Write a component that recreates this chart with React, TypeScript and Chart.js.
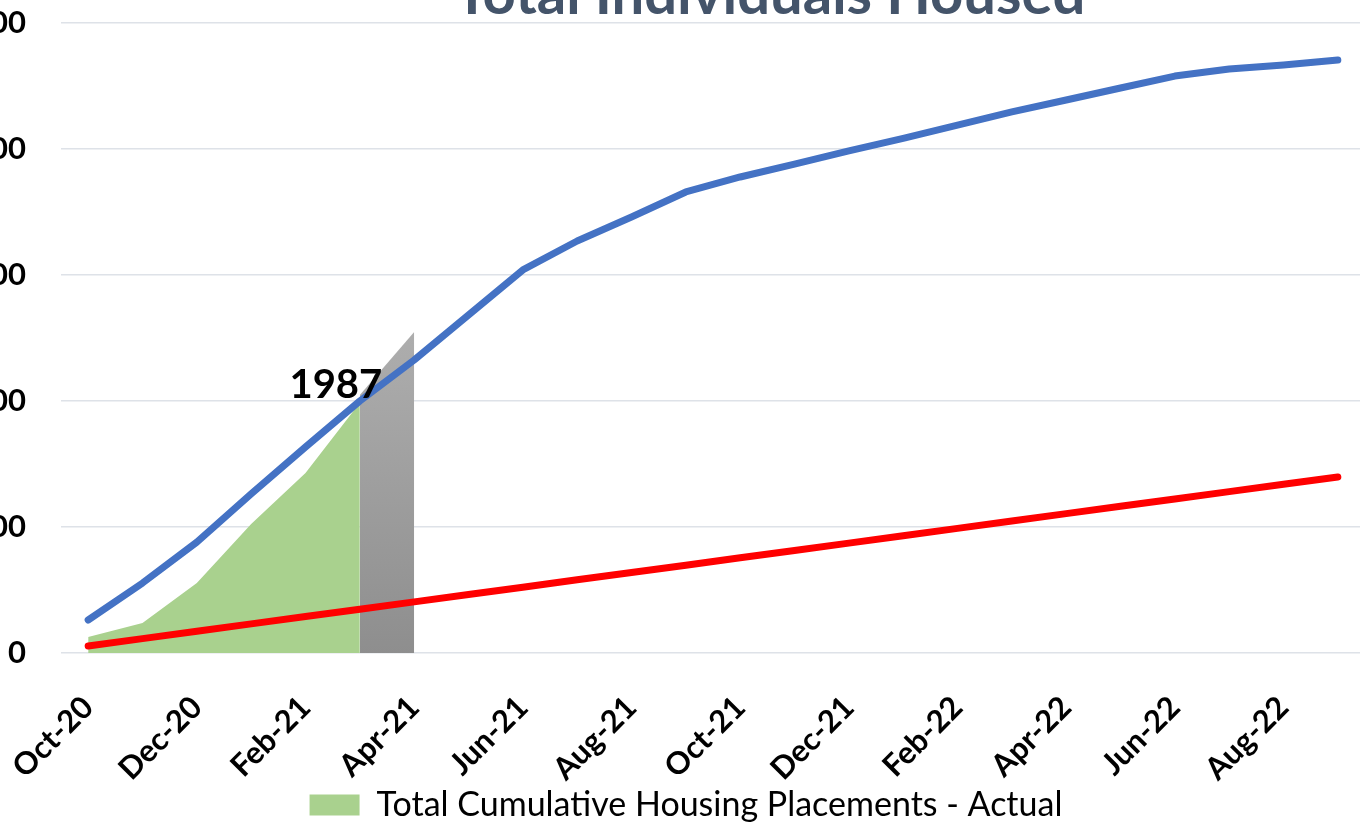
import React, { useEffect, useRef } from "react";
import { Chart, registerables } from "chart.js";

Chart.register(...registerables);

const months = [
  "Oct-20", "Nov-20", "Dec-20", "Jan-21", "Feb-21", "Mar-21", "Apr-21", "May-21",
  "Jun-21", "Jul-21", "Aug-21", "Sep-21", "Oct-21", "Nov-21", "Dec-21", "Jan-22",
  "Feb-22", "Mar-22", "Apr-22", "May-22", "Jun-22", "Jul-22", "Aug-22", "Sep-22",
];

const actualPlacements = [127, 238, 555, 1024, 1428, 1987, null, null, null, null, null, null,
  null, null, null, null, null, null, null, null, null, null, null, null];

const projectedBridge = [null, null, null, null, null, 2048, 2548, null, null, null, null, null,
  null, null, null, null, null, null, null, null, null, null, null, null];

const projectedTotal = [262, 555, 880, 1262, 1635, 2000, 2325, 2683, 3040, 3270, 3460, 3659,
  3778, 3880, 3985, 4085, 4190, 4294, 4389, 4484, 4579, 4635, 4667, 4706];

const goalLine = [56, 114, 172, 231, 289, 347, 406, 464, 522, 581, 639, 697,
  756, 814, 872, 931, 989, 1047, 1106, 1164, 1222, 1281, 1339, 1397];

const yTicks = [0, 1000, 2000, 3000, 4000, 5000];

const chartTitle = "Total Individuals Housed";
const actualLabel = "Total Cumulative Housing Placements - Actual";

const FONT = "Lato, 'Liberation Sans', sans-serif";

export default function App() {
  const ref = useRef<HTMLCanvasElement | null>(null);

  useEffect(() => {
    const canvas = ref.current;
    if (!canvas) return;

    const titlePlugin = {
      id: "sideTitle",
      afterDraw(chart: any) {
        const { ctx, chartArea } = chart;
        ctx.save();
        ctx.font = `bold 58px ${FONT}`;
        ctx.fillStyle = "#44546A";
        ctx.textAlign = "center";
        ctx.textBaseline = "alphabetic";
        ctx.fillText(chartTitle, (chartArea.left + chartArea.right) / 2 + 57, chartArea.top - 9);
        ctx.restore();
      },
    };

    const unclipLabels = {
      id: "unclipLabels",
      afterLayout(chart: any) {
        ["x", "y"].forEach((id) => {
          const s = chart.scales[id];
          if (s) s._computeLabelArea = () => undefined;
        });
      },
    };

    const valueLabelPlugin = {
      id: "valueLabel",
      afterDatasetsDraw(chart: any) {
        const meta = chart.getDatasetMeta(0);
        let idx = -1;
        actualPlacements.forEach((v, i) => { if (v !== null) idx = i; });
        const pt = meta.data[idx];
        if (!pt) return;
        const { ctx } = chart;
        ctx.save();
        ctx.font = `bold 40px ${FONT}`;
        ctx.fillStyle = "#000000";
        ctx.textAlign = "center";
        ctx.textBaseline = "alphabetic";
        ctx.fillText(String(actualPlacements[idx]), pt.x - 24, pt.y - 5);
        ctx.restore();
      },
    };

    const chart = new Chart(canvas, {
      type: "line",
      data: {
        labels: months,
        datasets: [
          {
            label: actualLabel,
            data: actualPlacements,
            fill: "origin",
            backgroundColor: "#A9D18E",
            borderWidth: 0,
            pointRadius: 0,
            tension: 0,
            spanGaps: false,
            order: 3,
          },
          {
            label: "Projected",
            data: projectedBridge,
            fill: "origin",
            backgroundColor: (c: any) => {
              const area = c.chart.chartArea;
              if (!area) return "#A0A0A0";
              const g = c.chart.ctx.createLinearGradient(0, area.top, 0, area.bottom);
              g.addColorStop(0, "#C4C4C4");
              g.addColorStop(0.45, "#B0B0B0");
              g.addColorStop(1, "#8E8E8E");
              return g;
            },
            borderWidth: 0,
            pointRadius: 0,
            tension: 0,
            spanGaps: false,
            order: 4,
          },
          {
            label: "Projected Total",
            data: projectedTotal,
            borderColor: "#4472C4",
            backgroundColor: "#4472C4",
            borderWidth: 7,
            borderCapStyle: "round",
            borderJoinStyle: "round",
            pointRadius: 0,
            fill: false,
            tension: 0,
            order: 1,
          },
          {
            label: "Goal",
            data: goalLine,
            borderColor: "#FF0000",
            backgroundColor: "#FF0000",
            borderWidth: 7,
            borderCapStyle: "round",
            borderJoinStyle: "round",
            pointRadius: 0,
            fill: false,
            tension: 0,
            order: 0,
          },
        ],
      },
      options: {
        responsive: false,
        animation: false,
        devicePixelRatio: 1,
        layout: { padding: { left: 57, right: 57, top: 23, bottom: 0 } },
        plugins: {
          title: { display: false },
          tooltip: { enabled: false },
          legend: {
            display: true,
            position: "bottom",
            labels: {
              filter: (item: any) => item.datasetIndex === 0,
              boxWidth: 50,
              boxHeight: 21,
              padding: 10,
              color: "#000000",
              font: { family: FONT, size: 34 },
            },
          },
        },
        scales: {
          x: {
            type: "category",
            offset: true,
            grid: { display: false, drawTicks: false },
            border: { display: false },
            ticks: {
              autoSkip: false,
              minRotation: 45,
              maxRotation: 45,
              padding: 36,
              color: "#000000",
              font: { family: FONT, size: 31, weight: "bold" },
              callback: (_v: any, i: number) => (i % 2 === 0 ? months[i] : ""),
            },
            afterFit: (scale: any) => { scale.height = 125; },
          },
          y: {
            min: 0,
            max: 5000,
            afterBuildTicks: (scale: any) => {
              scale.ticks = yTicks.map((v) => ({ value: v }));
            },
            grid: {
              color: "#DEE2E8",
              lineWidth: 1.5,
              drawTicks: true,
              tickLength: 35,
              tickColor: "rgba(0,0,0,0)",
            },
            border: { display: false },
            ticks: {
              padding: 0,
              color: "#000000",
              font: { family: FONT, size: 31, weight: "bold" },
              callback: (v: any) => String(v),
            },
            afterFit: (scale: any) => { scale.width = 54; },
          },
        },
      },
      plugins: [titlePlugin, unclipLabels, valueLabelPlugin],
    } as any);

    return () => chart.destroy();
  }, []);

  return (
    <div
      style={{
        position: "fixed",
        left: 0,
        top: 0,
        width: 1360,
        height: 824,
        overflow: "hidden",
        background: "#ffffff",
      }}
    >
      <canvas
        ref={ref}
        width={1472}
        height={832}
        style={{ position: "absolute", left: -50, top: 0, width: 1472, height: 832 }}
      />
    </div>
  );
}
